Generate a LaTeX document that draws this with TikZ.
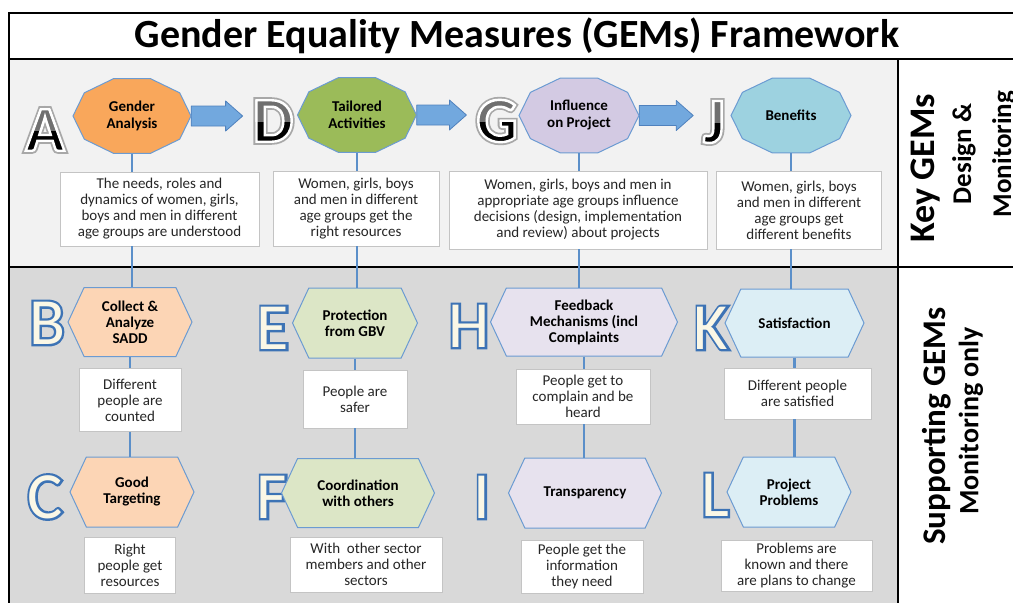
\documentclass[tikz,border=0pt]{standalone}
\usepackage{fontspec}
\setmainfont{Carlito}
\usetikzlibrary{calc,shapes.symbols}
\pgfdeclarelayer{back}
\pgfdeclarelayer{shapes}
\pgfsetlayers{back,shapes,main}
\definecolor{edgeblue}{HTML}{6B9BD2}
\definecolor{linkblue}{HTML}{5B8FC9}
\definecolor{arrowblue}{HTML}{72A8DE}
\definecolor{arrowedge}{HTML}{4F81BD}
\definecolor{letblue}{HTML}{3D74B4}
\definecolor{cream}{HTML}{FAF7E6}
\definecolor{topgray}{HTML}{707070}
\definecolor{uppergray}{HTML}{F2F2F2}
\definecolor{lowergray}{HTML}{D9D9D9}
\definecolor{boxgray}{HTML}{C4C4C4}
\definecolor{textgray}{HTML}{262626}
\definecolor{orangeF}{HTML}{F9A75B}
\definecolor{greenF}{HTML}{9BBB59}
\definecolor{lilacF}{HTML}{D3CAE3}
\definecolor{aquaF}{HTML}{9DD2E0}
\definecolor{peachF}{HTML}{FCD5B5}
\definecolor{sageF}{HTML}{DCE6C6}
\definecolor{mistF}{HTML}{E7E2EE}
\definecolor{iceF}{HTML}{DCEEF5}
% filled and stroked glyphs: stroke width, stroke rgb, text
\newcommand\rimtext[3]{%
 \special{pdf:literal direct 2 Tr #1 w #2 RG}#3\special{pdf:literal direct 0 Tr}}
\tikzset{
 desc/.style={draw=boxgray, line width=0.8pt, fill=white, align=center, inner sep=2pt,
   text=textgray, font=\fontsize{15}{16}\selectfont},
 decatext/.style={inner sep=0pt, align=center, font=\bfseries\fontsize{15}{17}\selectfont},
 hexbox/.style={signal, signal to=west and east, signal pointer angle=130, draw=edgeblue,
   line width=1pt, align=center, inner sep=1pt, font=\bfseries\fontsize{15}{16}\selectfont},
 link/.style={draw=linkblue, line width=2.5pt},
 blockarr/.style={draw=arrowedge, fill=arrowblue, line width=0.8pt, line join=round},
 keylet/.style={inner sep=0pt, font=\bfseries\fontsize{64}{64}\selectfont},
 suplet/.style={inner sep=0pt, font=\fontsize{66}{66}\selectfont},
 sidelabel/.style={rotate=90, align=center, inner sep=0pt},
}
% decagon behind a text node: node, half width, half height, fill
\newcommand\decagon[4]{%
 \begin{pgfonlayer}{shapes}
  \draw[draw=edgeblue, line width=1pt, fill=#4, shift={(#1.center)}]
   plot[samples at={0,36,...,324}] ({#2*cos(\x)},{#3*sin(\x)}) -- cycle;
 \end{pgfonlayer}}
% big black letter of the key row: grey glow, white rim, lighter upper half
\newcommand\keyletter[3]{%
 \node[keylet, text=white] (#1) at (#2) {\rimtext{6}{0.66 0.66 0.66}{#3}};
 \node[keylet, text=black] (#1mid) at (#1.center) {\rimtext{2.4}{1 1 1}{#3}};
 \begin{scope}
  \clip (#1.north west) rectangle (#1.east);
  \node[keylet, text=topgray] (#1top) at (#1.center) {\rimtext{2.4}{1 1 1}{#3}};
 \end{scope}}
% outlined letter of the supporting rows
\newcommand\supletter[3]{%
 \node[suplet, text=letblue] (#1) at (#2) {\rimtext{4.6}{0.24 0.45 0.71}{#3}};
 \node[suplet, text=cream] (#1in) at (#1.center) {#3};}
% block arrow from a decagon to the next letter
\newcommand\blockarrow[2]{%
 \begin{pgfonlayer}{back}
  \draw[blockarr] let \p1=(#1.east), \p2=([xshift=-10pt]#2.west) in
   (\x1,\y1+10pt) -- (\x2-17pt,\y1+10pt) -- (\x2-17pt,\y1+15pt) -- (\x2,\y1)
   -- (\x2-17pt,\y1-15pt) -- (\x2-17pt,\y1-10pt) -- (\x1,\y1-10pt) -- cycle;
 \end{pgfonlayer}}
\begin{document}
\begin{tikzpicture}[x=1pt, y=-1pt]
\useasboundingbox (0,0) rectangle (1013,603);
\begin{pgfonlayer}{back}
 \fill[white] (0,0) rectangle (1013,603);
 \fill[uppergray] (9,59) rectangle (898,267);
 \fill[lowergray] (9,267) rectangle (898,603);
 \draw[line width=1.5pt] (1013,13) -- (9,13) -- (9,603);
 \draw[line width=2.5pt] (9,59) -- (1013,59);
 \draw[line width=2.5pt] (9,267) -- (1013,267);
 \draw[line width=1.5pt] (898,59) -- (898,603);
\end{pgfonlayer}
\node[font=\bfseries\fontsize{40}{40}\selectfont] (title) at (517,36) {Gender Equality Measures (GEMs) Framework};

% key GEMs
\keyletter{la}{45,130}{A}
\keyletter{ld}{273,121}{D}
\keyletter{lg}{497,121}{G}
\keyletter{lj}{714,122}{J}
\node[decatext, minimum width=118, minimum height=75] (ga) at (132,116) {Gender\\Analysis};
\node[decatext, minimum width=119, minimum height=75] (ta) at (357,115) {Tailored\\Activities};
\node[decatext, minimum width=120, minimum height=75] (ip) at (579,115.5) {Influence\\on Project};
\node[decatext, minimum width=120, minimum height=75] (be) at (791,115.5) {Benefits};
\decagon{ga}{59}{39.4}{orangeF}
\decagon{ta}{59.5}{39.4}{greenF}
\decagon{ip}{60}{39.4}{lilacF}
\decagon{be}{60}{39.4}{aquaF}
\blockarrow{ga}{ld}
\blockarrow{ta}{lg}
\blockarrow{ip}{lj}
\node[desc, minimum width=199, minimum height=74] (gad) at (159.5,209) {The needs, roles and\\dynamics of women, girls,\\boys and men in different\\age groups are understood};
\node[desc, minimum width=166, minimum height=75] (tad) at (356,208.5) {Women, girls, boys\\and men in different\\age groups get the\\right resources};
\node[desc, minimum width=258, minimum height=78] (ipd) at (578,210) {Women, girls, boys and men in\\appropriate age groups influence\\decisions (design, implementation\\and review) about projects};
\node[desc, minimum width=165, minimum height=78] (bed) at (799,210) {Women, girls, boys\\and men in different\\age groups get\\different benefits};

% supporting GEMs
\supletter{lb}{47,323}{B}
\supletter{le}{273,328}{E}
\supletter{lh}{469,326}{H}
\supletter{lk}{711,328}{K}
\supletter{lc}{45,497}{C}
\supletter{lf}{272,497}{F}
\supletter{li}{482,497}{I}
\supletter{ll}{715,495}{L}
\node[hexbox, fill=peachF, minimum width=124, minimum height=69] (bh) at (130,322) {Collect \&\\Analyze\\SADD};
\node[hexbox, fill=sageF, minimum width=125, minimum height=70] (eh) at (355,323) {Protection\\from GBV};
\node[hexbox, fill=mistF, minimum width=187, minimum height=68] (hh) at (584,322) {Feedback\\Mechanisms (incl\\Complaints};
\node[hexbox, fill=iceF, minimum width=139, minimum height=68] (kh) at (794.5,323) {Satisfaction};
\node[desc, minimum width=102, minimum height=63] (bd) at (130,400) {Different\\people are\\counted};
\node[desc, minimum width=104, minimum height=58] (ed) at (355,399) {People are\\safer};
\node[desc, minimum width=134, minimum height=55] (hd) at (583,396.5) {People get to\\complain and be\\heard};
\node[desc, minimum width=147, minimum height=51] (kd) at (797.5,393.5) {Different people\\are satisfied};
\node[hexbox, fill=peachF, minimum width=124, minimum height=70] (ch) at (132,492) {Good\\Targeting};
\node[hexbox, fill=sageF, minimum width=153, minimum height=69] (fh) at (358,493) {Coordination\\with others};
\node[hexbox, fill=mistF, minimum width=153, minimum height=70] (ih) at (585,493) {Transparency};
\node[hexbox, fill=iceF, minimum width=124, minimum height=70] (lh) at (789,492) {Project\\Problems};
\node[desc, minimum width=91, minimum height=56] (cd) at (130,565) {Right\\people get\\resources};
\node[desc, minimum width=152, minimum height=55] (fd) at (366,564.5) {With\ \ other sector\\members and other\\sectors};
\node[desc, minimum width=122, minimum height=53] (id) at (582,566.5) {People get the\\information\\they need};
\node[desc, minimum width=151, minimum height=51] (ld) at (796.5,565.5) {Problems are\\known and there\\are plans to change};

% vertical links down each column
\foreach \ka/\kd/\sa/\sd/\sb in {ga/gad/bh/bd/ch, ta/tad/eh/ed/fh, ip/ipd/hh/hd/ih, be/bed/kh/kd/lh}{
 \draw[link] (\ka.south) -- (\ka.south |- \kd.north);
 \draw[link] (\ka.south |- \kd.south) -- (\ka.south |- \sa.north);
 \draw[link] (\sa.south) -- (\sa.south |- \sd.north);
 \draw[link] (\sa.south |- \sd.south) -- (\sa.south |- \sb.north);
}

% side labels
\node[sidelabel, font=\bfseries\fontsize{36}{36}\selectfont] (key) at (926,168) {Key GEMs};
\node[sidelabel, font=\bfseries\fontsize{27}{40}\selectfont] (keysub) at (984,154) {Design \&\\Monitoring};
\node[sidelabel, font=\bfseries\fontsize{33}{33}\selectfont] (sup) at (937,426) {Supporting GEMs};
\node[sidelabel, font=\bfseries\fontsize{28}{28}\selectfont] (supsub) at (971,421) {Monitoring only};
\end{tikzpicture}
\end{document}
